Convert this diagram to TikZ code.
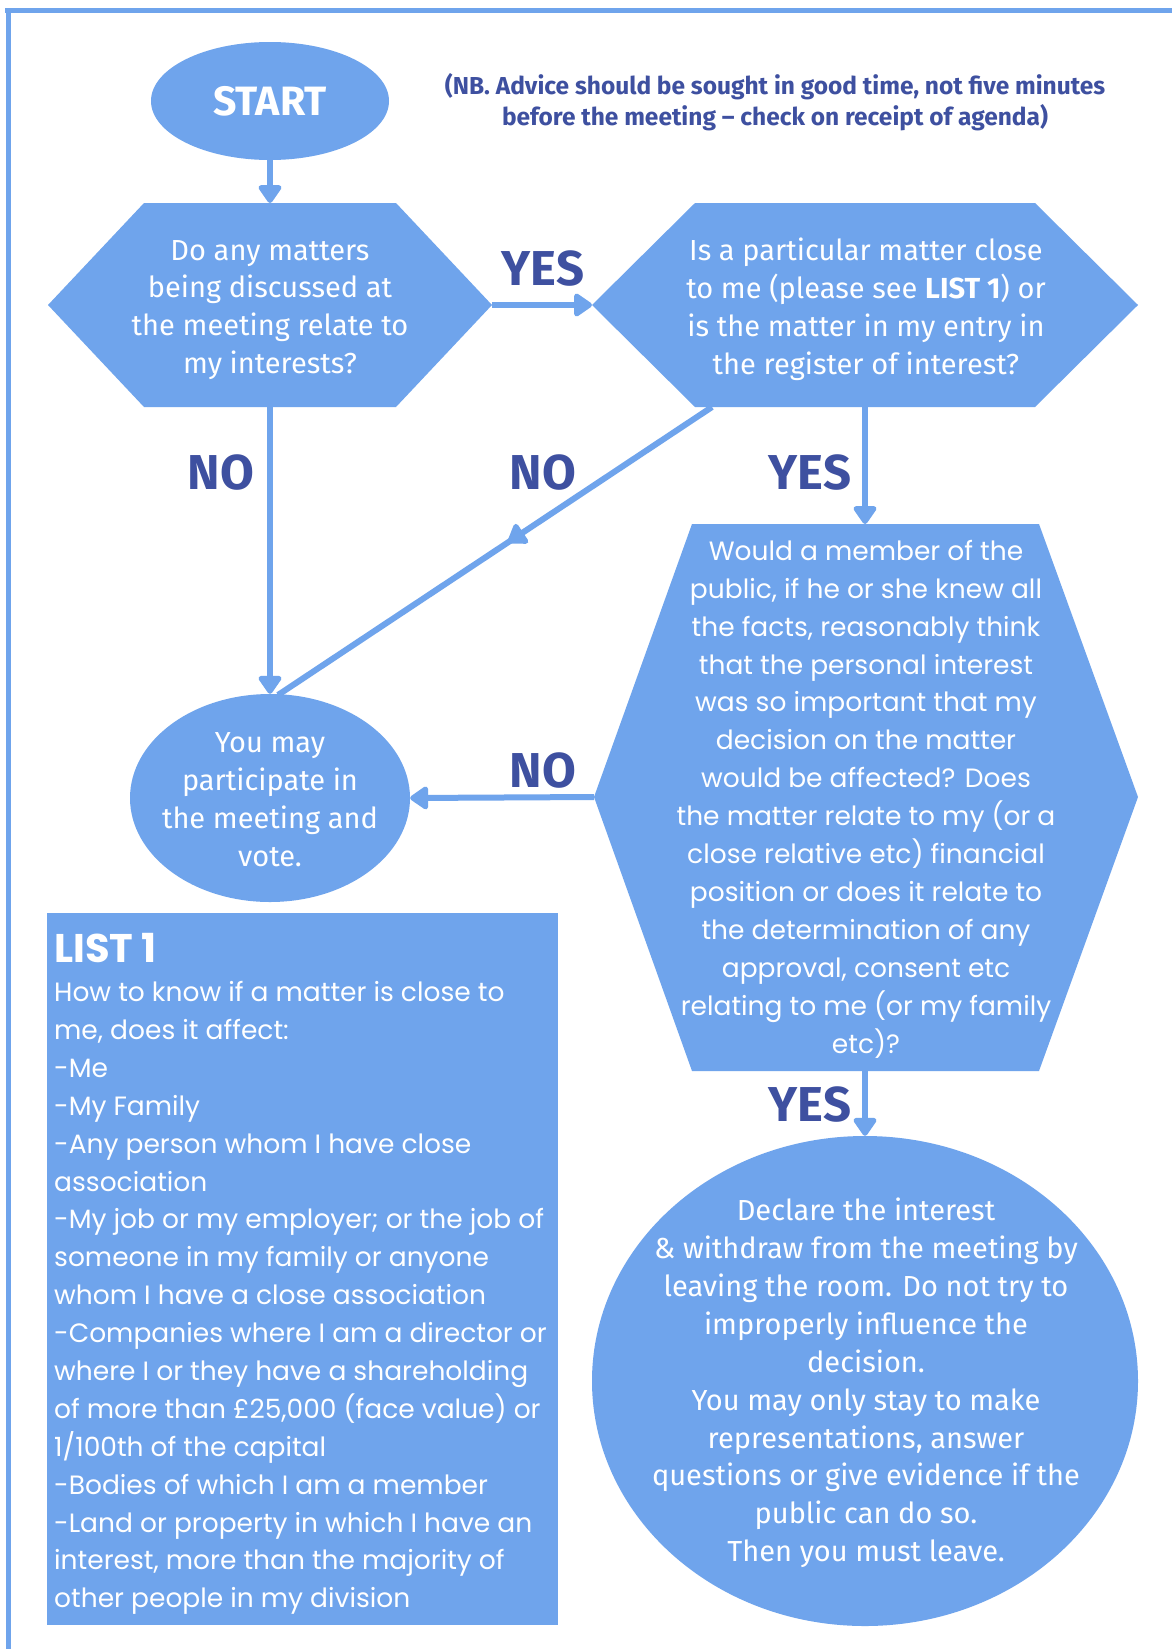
\documentclass[tikz,border=0pt]{standalone}
\usepackage{fontspec}
\setmainfont{Fira Sans}
\newfontfamily\plexfont{Fira Sans}
\newfontfamily\geofont{Poppins}
\usetikzlibrary{arrows.meta,shapes.geometric,decorations.markings}
\definecolor{boxblue}{HTML}{6FA4EC}
\definecolor{navy}{HTML}{3E50A0}
\tikzset{
  shapefill/.style={fill=boxblue, draw=none},
  flow/.style={draw=boxblue, line width=6pt, -{Triangle[width=26pt,length=20pt,round]}},
  lbl/.style={text=navy, font=\plexfont\fontsize{49}{55}\selectfont\bfseries},
  ptext/.style={text=white, align=center, font=\plexfont\fontsize{29}{37.9}\selectfont},
  gtext/.style={text=white, align=center, font=\geofont\fontsize{26.5}{37.9}\selectfont},
  oval/.style={ellipse, fill=boxblue, draw=none, inner sep=0pt},
}
\begin{document}
\begin{tikzpicture}[x=1pt,y=-1pt]
\useasboundingbox (0,0) rectangle (1172,1649);
\fill[white] (0,0) rectangle (1172,1649);
% frame
\draw[boxblue, line width=5pt] (5,10) -- (1172,10);
\draw[boxblue, line width=5pt] (8,8) -- (8,1649);

% START
\node[oval, minimum width=238pt, minimum height=118pt] (start) at (270,101) {};
\node[text=white, font=\plexfont\fontsize{41}{45}\selectfont\bfseries] (starttxt) at (start) {START};

% NB note
\node[text=navy, align=center, font=\plexfont\fontsize{24.5}{30.5}\selectfont\bfseries] (note) at (775,102)
  {(NB. Advice should be sought in good time, not five minutes\\before the meeting – check on receipt of agenda)};

% Hexagon 1
\coordinate (h1l) at (48,305);
\coordinate (h1tl) at (144,203);
\coordinate (h1tr) at (396,203);
\coordinate (h1r) at (492,305);
\coordinate (h1br) at (396,407);
\coordinate (h1bl) at (144,407);
\coordinate (h1t) at (270,203);
\coordinate (h1b) at (270,407);
\fill[boxblue] (h1l) -- (h1tl) -- (h1tr) -- (h1r) -- (h1br) -- (h1bl) -- cycle;
\node[ptext] (q1) at (270,310) {Do any matters\\being discussed at\\the meeting relate to\\my interests?};

% Hexagon 2
\coordinate (h2l) at (592,305);
\coordinate (h2tl) at (695,203);
\coordinate (h2tr) at (1035,203);
\coordinate (h2r) at (1138,305);
\coordinate (h2br) at (1035,407);
\coordinate (h2bl) at (695,407);
\coordinate (h2t) at (865,203);
\coordinate (h2b) at (865,407);
\coordinate (h2d) at (712,407);
\fill[boxblue] (h2l) -- (h2tl) -- (h2tr) -- (h2r) -- (h2br) -- (h2bl) -- cycle;
\node[ptext] (q2) at (866,309) {Is a particular matter close\\to me (please see \textbf{LIST 1}) or\\is the matter in my entry in\\the register of interest?};

% Ellipse 2
\node[oval, minimum width=280pt, minimum height=208pt] (e2) at (270,798) {};
\node[ptext] (e2txt) at (270,800) {You may\\participate in\\the meeting and\\vote.};
\coordinate (e2d) at (278,695);

% Hexagon 3
\coordinate (h3l) at (594,797);
\coordinate (h3tl) at (692,524);
\coordinate (h3tr) at (1039,524);
\coordinate (h3r) at (1138,797);
\coordinate (h3br) at (1039,1071);
\coordinate (h3bl) at (692,1071);
\coordinate (h3t) at (865,524);
\coordinate (h3b) at (865,1071);
\fill[boxblue] (h3l) -- (h3tl) -- (h3tr) -- (h3r) -- (h3br) -- (h3bl) -- cycle;
\node[gtext] (q3) at (866,799) {Would a member of the\\public, if he or she knew all\\the facts, reasonably think\\that the personal interest\\was so important that my\\decision on the matter\\would be affected? Does\\the matter relate to my (or a\\close relative etc) financial\\position or does it relate to\\the determination of any\\approval, consent etc\\relating to me (or my family\\etc)?};

% Ellipse 3
\node[oval, minimum width=546pt, minimum height=490pt] (e3) at (865,1381) {};
\node[ptext] (e3txt) at (866,1383) {Declare the interest\\\& withdraw from the meeting by\\leaving the room. Do not try to\\improperly influence the\\decision.\\You may only stay to make\\representations, answer\\questions or give evidence if the\\public can do so.\\Then you must leave.};

% List 1
\fill[boxblue] (47,913) rectangle (558,1625);
\node[text=white, anchor=west, inner sep=0pt, font=\geofont\fontsize{40}{44}\selectfont\bfseries] (listtitle) at (54,948) {LIST 1};
\node[gtext, align=left, anchor=west, inner sep=0pt] (listtxt) at (54,1298) {How to know if a matter is close to\\me, does it affect:\\-Me\\-My Family\\-Any person whom I have close\\association\\-My job or my employer; or the job of\\someone in my family or anyone\\whom I have a close association\\-Companies where I am a director or\\where I or they have a shareholding\\of more than £25,000 (face value) or\\1/100th of the capital\\-Bodies of which I am a member\\-Land or property in which I have an\\interest, more than the majority of\\other people in my division};

% connectors
\draw[flow] (start.south) -- (h1t);
\draw[flow] (h1r) -- (h2l);
\draw[flow] (h1b) -- (e2.north);
\draw[flow] (h2b) -- (h3t);
\draw[draw=boxblue, line width=6pt, postaction={decorate},
  decoration={markings, mark=at position 0.47 with {\arrow[boxblue]{Triangle[width=26pt,length=20pt,round]}}}]
  (h2d) -- (e2d);
\draw[flow] (h3l) -- (e2.east);
\draw[flow] (h3b) -- (e3.north);

% labels
\node[lbl] (yes1) at (543,269) {YES};
\node[lbl] (no1) at (221,473) {NO};
\node[lbl] (no2) at (543,473) {NO};
\node[lbl] (yes2) at (810,473) {YES};
\node[lbl] (no3) at (543,771) {NO};
\node[lbl] (yes3) at (810,1105) {YES};
\end{tikzpicture}
\end{document}
